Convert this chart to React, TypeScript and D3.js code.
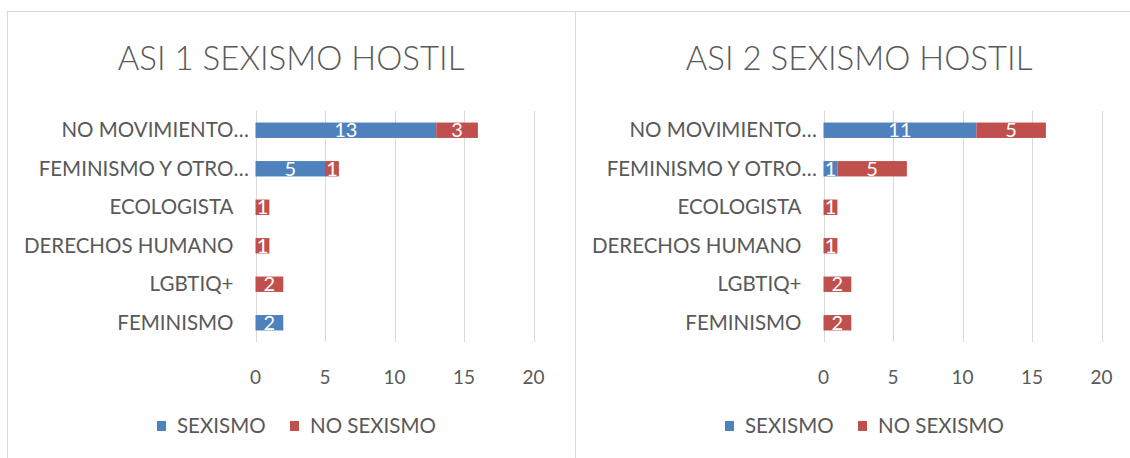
import React, { useEffect, useRef } from "react";
import * as d3 from "d3";

const categories = [
  "NO MOVIMIENTO",
  "FEMINISMO Y OTRO",
  "ECOLOGISTA",
  "DERECHOS HUMANO",
  "LGBTIQ+",
  "FEMINISMO",
];
// labels Excel cut off with an ellipsis
const truncated = [true, true, false, false, false, false];

const seriesNames = ["SEXISMO", "NO SEXISMO"];
const seriesColors = ["#4F81BD", "#C0504D"];

const asi1Sexismo = [13, 5, 0, 0, 0, 2];
const asi1NoSexismo = [3, 1, 1, 1, 2, 0];
const asi2Sexismo = [11, 1, 0, 0, 0, 0];
const asi2NoSexismo = [5, 5, 1, 1, 2, 2];

const xTicks = [0, 5, 10, 15, 20];

const FONT = "Lato, 'Open Sans', sans-serif";
const GREY = "#595959";

const W = 1130;
const H = 458;

const panels = [
  { title: "ASI 1 SEXISMO HOSTIL", a: asi1Sexismo, b: asi1NoSexismo, x0: 7, w: 568 },
  { title: "ASI 2 SEXISMO HOSTIL", a: asi2Sexismo, b: asi2NoSexismo, x0: 575, w: 568 },
];

const App = () => {
  const svgRef = useRef<SVGSVGElement>(null);

  useEffect(() => {
    const svg = d3.select(svgRef.current);
    svg.selectAll("*").remove();

    svg.append("rect").attr("width", W).attr("height", H).attr("fill", "white");

    panels.forEach((p) => {
      const g = svg.append("g").attr("transform", `translate(${p.x0},0)`);

      // chart border
      g.append("rect")
        .attr("x", 0.5)
        .attr("y", 11.5)
        .attr("width", p.w)
        .attr("height", 460)
        .attr("fill", "white")
        .attr("stroke", "#d9d9d9");

      // title
      g.append("text")
        .attr("x", p.w / 2)
        .attr("y", 70)
        .attr("text-anchor", "middle")
        .style("font-family", FONT)
        .style("font-weight", 300)
        .style("font-size", "33px")
        .style("fill", GREY)
        .text(p.title);

      const xScale = d3.scaleLinear().domain([0, 20]).range([248.5, 526.5]);
      const yScale = d3
        .scaleBand()
        .domain(categories)
        .range([111, 342])
        .paddingInner(0.6)
        .paddingOuter(0.3);

      // gridlines
      g.selectAll(".grid")
        .data(xTicks)
        .enter()
        .append("line")
        .attr("x1", (d) => Math.round(xScale(d)) + 0.5)
        .attr("x2", (d) => Math.round(xScale(d)) + 0.5)
        .attr("y1", 111)
        .attr("y2", 342)
        .attr("stroke", "#d9d9d9");

      // tick labels
      g.selectAll(".tick")
        .data(xTicks)
        .enter()
        .append("text")
        .attr("x", (d) => xScale(d))
        .attr("y", 384)
        .attr("text-anchor", "middle")
        .style("font-family", FONT)
        .style("font-size", "19px")
        .style("fill", GREY)
        .text((d) => d);

      // category labels
      categories.forEach((c, i) => {
        const cy = (yScale(c) as number) + yScale.bandwidth() / 2 + 7;
        g.append("text")
          .attr("x", xScale(0) - 22)
          .attr("y", cy)
          .attr("text-anchor", "end")
          .style("font-family", FONT)
          .style("font-size", "20.5px")
          .style("fill", GREY)
          .text(c);
        if (truncated[i]) {
          g.append("text")
            .attr("x", xScale(0) - 22)
            .attr("y", cy)
            .style("font-family", FONT)
            .style("font-size", "20.5px")
            .style("fill", GREY)
            .text("…");
        }
      });

      // stacked bars
      const rows = categories.map((c, i) => ({ cat: c, a: p.a[i], b: p.b[i] }));
      const stack = d3.stack<any>().keys(["a", "b"])(rows);

      stack.forEach((layer, si) => {
        layer.forEach((seg) => {
          const v = seg[1] - seg[0];
          if (!v) return;
          const y = yScale(seg.data.cat) as number;
          g.append("rect")
            .attr("x", xScale(seg[0]))
            .attr("y", y)
            .attr("width", xScale(seg[1]) - xScale(seg[0]))
            .attr("height", yScale.bandwidth())
            .attr("fill", seriesColors[si]);
          g.append("text")
            .attr("x", (xScale(seg[0]) + xScale(seg[1])) / 2)
            .attr("y", y + yScale.bandwidth() / 2 + 7)
            .attr("text-anchor", "middle")
            .style("font-family", FONT)
            .style("font-size", "20px")
            .style("fill", "white")
            .text(v);
        });
      });

      // legend
      const legend = g.append("g").attr("transform", `translate(${p.w / 2 + 5},426)`);
      const items = [
        { name: seriesNames[0], color: seriesColors[0], x: -139 },
        { name: seriesNames[1], color: seriesColors[1], x: -6 },
      ];
      items.forEach((it) => {
        legend
          .append("rect")
          .attr("x", it.x)
          .attr("y", -5)
          .attr("width", 9)
          .attr("height", 10)
          .attr("fill", it.color);
        legend
          .append("text")
          .attr("x", it.x + 20)
          .attr("y", 7)
          .style("font-family", FONT)
          .style("font-size", "20.5px")
          .style("fill", GREY)
          .text(it.name);
      });
    });
  }, []);

  return (
    <div style={{ position: "absolute", left: 0, top: 0 }}>
      <svg ref={svgRef} width={W} height={H} style={{ display: "block" }}></svg>
    </div>
  );
};

export default App;
